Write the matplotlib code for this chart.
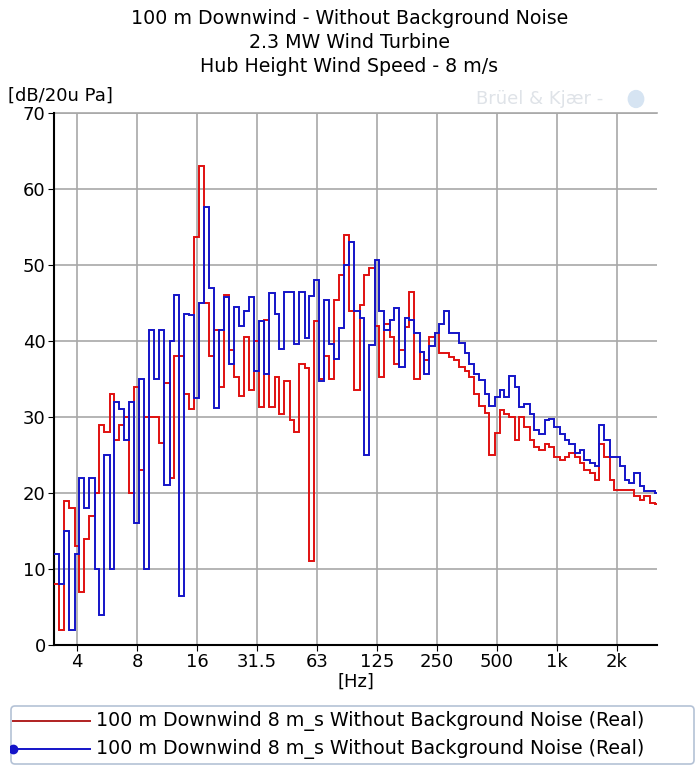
import numpy as np
import matplotlib
matplotlib.use("Agg")
import matplotlib.pyplot as plt
from matplotlib.patches import FancyBboxPatch

plt.rcParams['font.family'] = ['DejaVu Sans']

# 1/12-octave band index (band 100 = 1 kHz)
band_index = list(range(121))

red_db = [8, 2, 19, 18, 13, 7, 14, 17, 20, 29,
          28, 33, 27, 29, 30, 20, 34, 23, 30, 30,
          30, 26.6, 34.5, 22, 38, 38, 33, 31, 53.7, 63,
          45, 38, 41.5, 34, 46, 38.8, 35.3, 32.7, 40.5, 33.6,
          40, 31.3, 42.8, 31.3, 35.2, 30.4, 34.8, 29.6, 28, 37,
          36.5, 11, 42.6, 35, 38, 35, 45.4, 48.7, 54, 44,
          33.5, 44.8, 48.7, 49.6, 42, 35.3, 42.3, 40.5, 37, 38.8,
          41.9, 46.5, 35, 38.5, 37.5, 40.5, 41, 38.4, 38.4, 37.9,
          37.5, 36.6, 36, 35.3, 33, 31.4, 30.5, 25, 27.9, 30.9,
          30.4, 30, 27, 30, 28.7, 27, 26, 25.7, 26.5, 26,
          24.8, 24.3, 24.8, 25.2, 24.8, 24, 23, 22.6, 21.7, 26.5,
          24.8, 21.7, 20.4, 20.4, 20.4, 20.4, 19.6, 19.1, 19.6, 18.7,
          18.5]

blue_db = [12, 8, 15, 2, 12, 22, 18, 22, 10, 4,
           25, 10, 32, 31, 27, 32, 16, 35, 10, 41.5,
           35, 41.5, 21, 40, 46, 6.5, 43.6, 43.4, 32.5, 45,
           57.6, 47, 31.2, 41.5, 45.8, 37, 44.5, 42, 44, 45.8,
           36, 42.6, 35.6, 46.3, 43.5, 39, 46.5, 46.5, 39.6, 46.5,
           40.4, 45.9, 48, 34.8, 45.4, 39.6, 37.6, 41.7, 50, 53,
           44, 43, 25, 39.5, 50.6, 44, 41.5, 42.8, 44.3, 36.6,
           43, 42.8, 41, 38.6, 35.7, 39.3, 41, 42.3, 43.9, 41,
           41, 39.7, 38.4, 37, 35.7, 34.9, 33, 31.4, 32.6, 33.5,
           32.6, 35.4, 34, 31.3, 31.7, 30.4, 28.3, 27.8, 29.6, 29.8,
           28.7, 27.8, 27, 26.5, 25.2, 25.7, 24.3, 23.9, 23.5, 28.9,
           27, 24.8, 24.8, 23.5, 21.7, 21.3, 22.6, 20.9, 20.2, 20.2,
           20]

tick_freqs = [1000 * 2.0 ** n for n in range(-8, 2)]
tick_labels = ['4', '8', '16', '31.5', '63', '125', '250', '500', '1k', '2k']
y_ticks = [0, 10, 20, 30, 40, 50, 60, 70]

series_label = "100 m Downwind 8 m_s Without Background Noise (Real)"
titles = ["100 m Downwind - Without Background Noise",
          "2.3 MW Wind Turbine",
          "Hub Height Wind Speed - 8 m/s"]

idx = np.array(band_index, dtype=float)
edges = 1000 * 2.0 ** ((np.append(idx, idx[-1] + 1) - 100.5) / 12.0)

W, H = 699, 768
fig = plt.figure(figsize=(W / 100, H / 100), dpi=100)
ax = fig.add_axes([54 / W, 1 - 645 / H, (657 - 54) / W, (645 - 113) / H])

RED = '#e01010'
BLUE = '#1414c8'
FS = 13.7
TFS = 13

ax.stairs(red_db, edges, baseline=None, color=RED, lw=1.4, zorder=3)
ax.stairs(blue_db, edges, baseline=None, color=BLUE, lw=1.4, zorder=4)

ax.set_xscale('log')
ax.set_xlim(1000 * 2 ** ((54 - 557) / 60), 1000 * 2 ** ((657 - 557) / 60))
ax.set_ylim(0, 70)
ax.set_xticks(tick_freqs)
ax.set_xticklabels(tick_labels)
ax.xaxis.set_minor_locator(matplotlib.ticker.NullLocator())
ax.set_yticks(y_ticks)
ax.tick_params(axis='both', labelsize=TFS, direction='out', length=4, color='black', pad=2)
ax.grid(True, color='#a8a8a8', lw=1.2, zorder=0)
for s in ['top', 'right']:
    ax.spines[s].set_visible(False)
ax.spines['left'].set_color('black')
ax.spines['bottom'].set_color('black')
ax.spines['left'].set_linewidth(1.5)
ax.spines['bottom'].set_linewidth(1.5)
ax.axhline(70, color='#a8a8a8', lw=1.2, zorder=0, clip_on=False)

ax.set_xlabel('[Hz]', fontsize=TFS, labelpad=1)
fig.text(8 / W, 1 - 96 / H, '[dB/20u Pa]', fontsize=TFS, va='center', ha='left')

for k, t in enumerate(titles):
    fig.text(0.5, 1 - (18 + 24 * k) / H, t, fontsize=FS, ha='center', va='center')

# faint watermark
fig.text(540 / W, 1 - 99 / H, 'Brüel & Kjær -', fontsize=TFS, ha='center', va='center',
         color='#dfe3e8')
fig.patches.append(matplotlib.patches.Circle((636 / W, 1 - 99 / H), 0.011,
                                             transform=fig.transFigure,
                                             color='#d6e4f2', zorder=0))

# legend
lax = fig.add_axes([10 / W, 1 - 765 / H, (695 - 10) / W, (765 - 705) / H])
lax.set_xlim(0, 685)
lax.set_ylim(60, 0)
lax.axis('off')
lax.add_patch(FancyBboxPatch((1, 1), 683, 58, boxstyle='round,pad=0,rounding_size=4',
                             fc='white', ec='#b4c2d6', lw=1.2))
lax.plot([3, 80], [16, 16], color='#b02020', lw=1.4)
lax.plot([3, 80], [44, 44], color=BLUE, lw=1.4)
lax.plot([3], [44], marker='o', color=BLUE, ms=6)
lax.text(86, 16, series_label, fontsize=FS, va='center', ha='left')
lax.text(86, 44, series_label, fontsize=FS, va='center', ha='left')

fig.savefig('out.png', dpi=100)
